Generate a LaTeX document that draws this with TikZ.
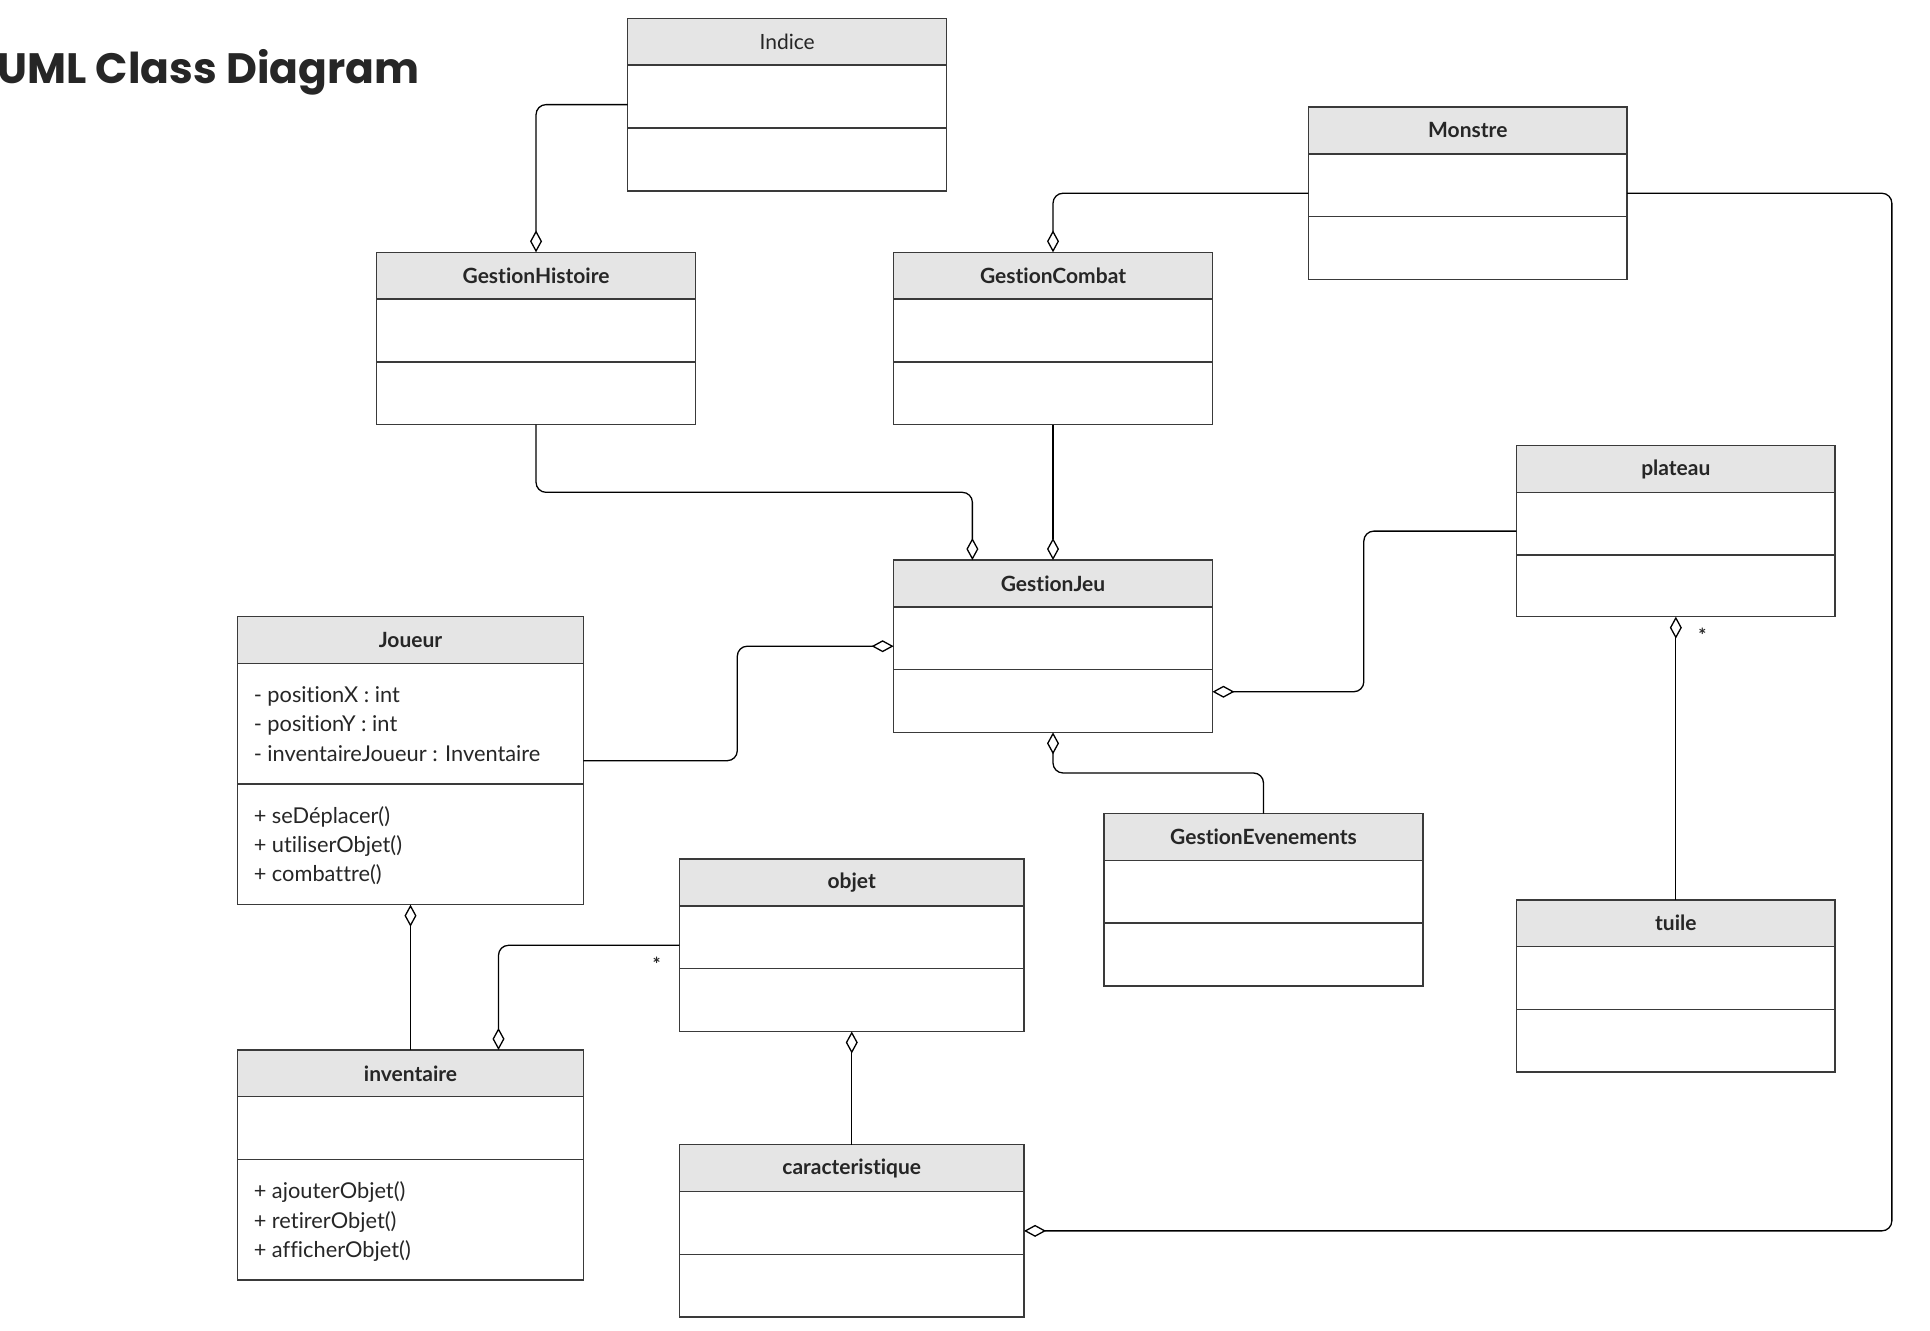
\documentclass[tikz,border=0pt]{standalone}
\usepackage{fontspec}
\setmainfont{Lato}[Ligatures={NoCommon}]
\newfontfamily\titlefont{Poppins}
\usetikzlibrary{arrows.meta,calc}
\definecolor{hdr}{HTML}{E5E5E5}
\definecolor{edge}{HTML}{3A3A3A}
\definecolor{txt}{HTML}{262626}
\newcommand\umlclass[7]{%
  \node[classnode, minimum width=#4*1.23087pt, minimum height=(38+#5+#6)*1.23087pt, anchor=north west] (#1) at (#2,#3) {};
  \fill[hdr] (#2,#3) rectangle ++(#4,38);
  \draw[boxline] (#2,#3) rectangle ++(#4,38+#5+#6);
  \draw[boxline] (#2,#3+38) -- ++(#4,0);
  \draw[boxline] (#2,#3+38+#5) -- ++(#4,0);
  \node[titletext] at (#2+#4/2,#3+19) {#7};
}
\begin{document}
\begin{tikzpicture}[x=1.23087pt,y=-1.23087pt,
  classnode/.style={inner sep=0pt, outer sep=0pt},
  boxline/.style={draw=edge, line width=1.5pt},
  titletext/.style={text=txt, font=\fontsize{21}{25}\selectfont, inner sep=0pt},
  membertext/.style={text=txt, font=\fontsize{21.8}{25}\selectfont, inner sep=0pt, anchor=west},
  conn/.style={draw=black, line width=1.3pt, rounded corners=10pt},
  aggstart/.style={conn, {Diamond[fill=white, length=22pt, width=12pt, line width=1.3pt]}-},
  aggend/.style={conn, -{Diamond[fill=white, length=22pt, width=12pt, line width=1.3pt]}},
  mult/.style={text=txt, font=\bfseries\fontsize{19}{21}\selectfont, inner sep=0pt, anchor=north}
]
\fill[white] (0,0) rectangle (1568,1081);
\useasboundingbox (0,0) rectangle (1568,1081);

\node[anchor=base west, inner sep=0pt, text=txt, font=\titlefont\bfseries\fontsize{42.5}{46}\selectfont] (title) at (-2,68) {UML Class Diagram};

\umlclass{indice}{510}{15}{259}{51}{51}{Indice}
\umlclass{gh}{306}{205}{259}{51}{51}{\bfseries GestionHistoire}
\umlclass{gc}{726}{205}{259}{51}{51}{\bfseries GestionCombat}
\umlclass{monstre}{1063}{87}{259}{51}{51}{\bfseries Monstre}
\umlclass{plateau}{1232}{362}{259}{51}{50}{\bfseries plateau}
\umlclass{gj}{726}{455}{259}{51}{51}{\bfseries GestionJeu}
\umlclass{joueur}{193}{501}{281}{98}{98}{\bfseries Joueur}
\umlclass{ge}{897}{661}{259}{51}{51}{\bfseries GestionEvenements}
\umlclass{objet}{552}{698}{280}{51}{51}{\bfseries objet}
\umlclass{tuile}{1232}{731}{259}{51}{51}{\bfseries tuile}
\umlclass{inv}{193}{853}{281}{51}{98}{\bfseries inventaire}
\umlclass{car}{552}{930}{280}{51}{51}{\bfseries caracteristique}

% members
\node[membertext] (ja1) at (206,565.5) {- positionX : int};
\node[membertext] (ja2) at (206,589.5) {- positionY : int};
\node[membertext] (ja3) at (206,612.5) {- inventaireJoueur : Inventaire};
\node[membertext] (jm1) at (206,663.5) {+ seDéplacer()};
\node[membertext] (jm2) at (206,687.5) {+ utiliserObjet()};
\node[membertext] (jm3) at (206,710.5) {+ combattre()};
\node[membertext] (im1) at (206,968.5) {+ ajouterObjet()};
\node[membertext] (im2) at (206,992.5) {+ retirerObjet()};
\node[membertext] (im3) at (206,1016.5) {+ afficherObjet()};

% connectors
\draw[aggstart] (gh.north) |- (indice.west);
\draw[aggstart] (gc.north) |- (monstre.west);
\draw[aggend] (gh.south) -- ++(0,55) -| ($(gj.north west)+(64,0)$);
\draw[aggend] (gc.south) -- (gj.north);
\draw[aggend] (joueur.east) -- ++(125,0) |- (gj.west);
\coordinate (pl1) at ($(gj.east)+(123,37)$);
\draw[aggend] (plateau.west) -| (pl1) -- ($(gj.east)+(0,37)$);
\draw[aggstart] (gj.south) -- ++(0,33) -| (ge.north);
\draw[aggstart] (plateau.south) -- (tuile.north);
\draw[aggstart] (joueur.south) -- (inv.north);
\draw[aggstart] ($(inv.north)+(71.5,0)$) |- (objet.west);
\draw[aggstart] (objet.south) -- (car.north);
\coordinate (mr) at ($(monstre.east)+(215,0)$);
\draw[aggstart] (car.east) -| (mr) -- (monstre.east);

\node[mult] (m1) at (1383,510.5) {*};
\node[mult] (m2) at (533.5,777.5) {*};
\end{tikzpicture}
\end{document}
